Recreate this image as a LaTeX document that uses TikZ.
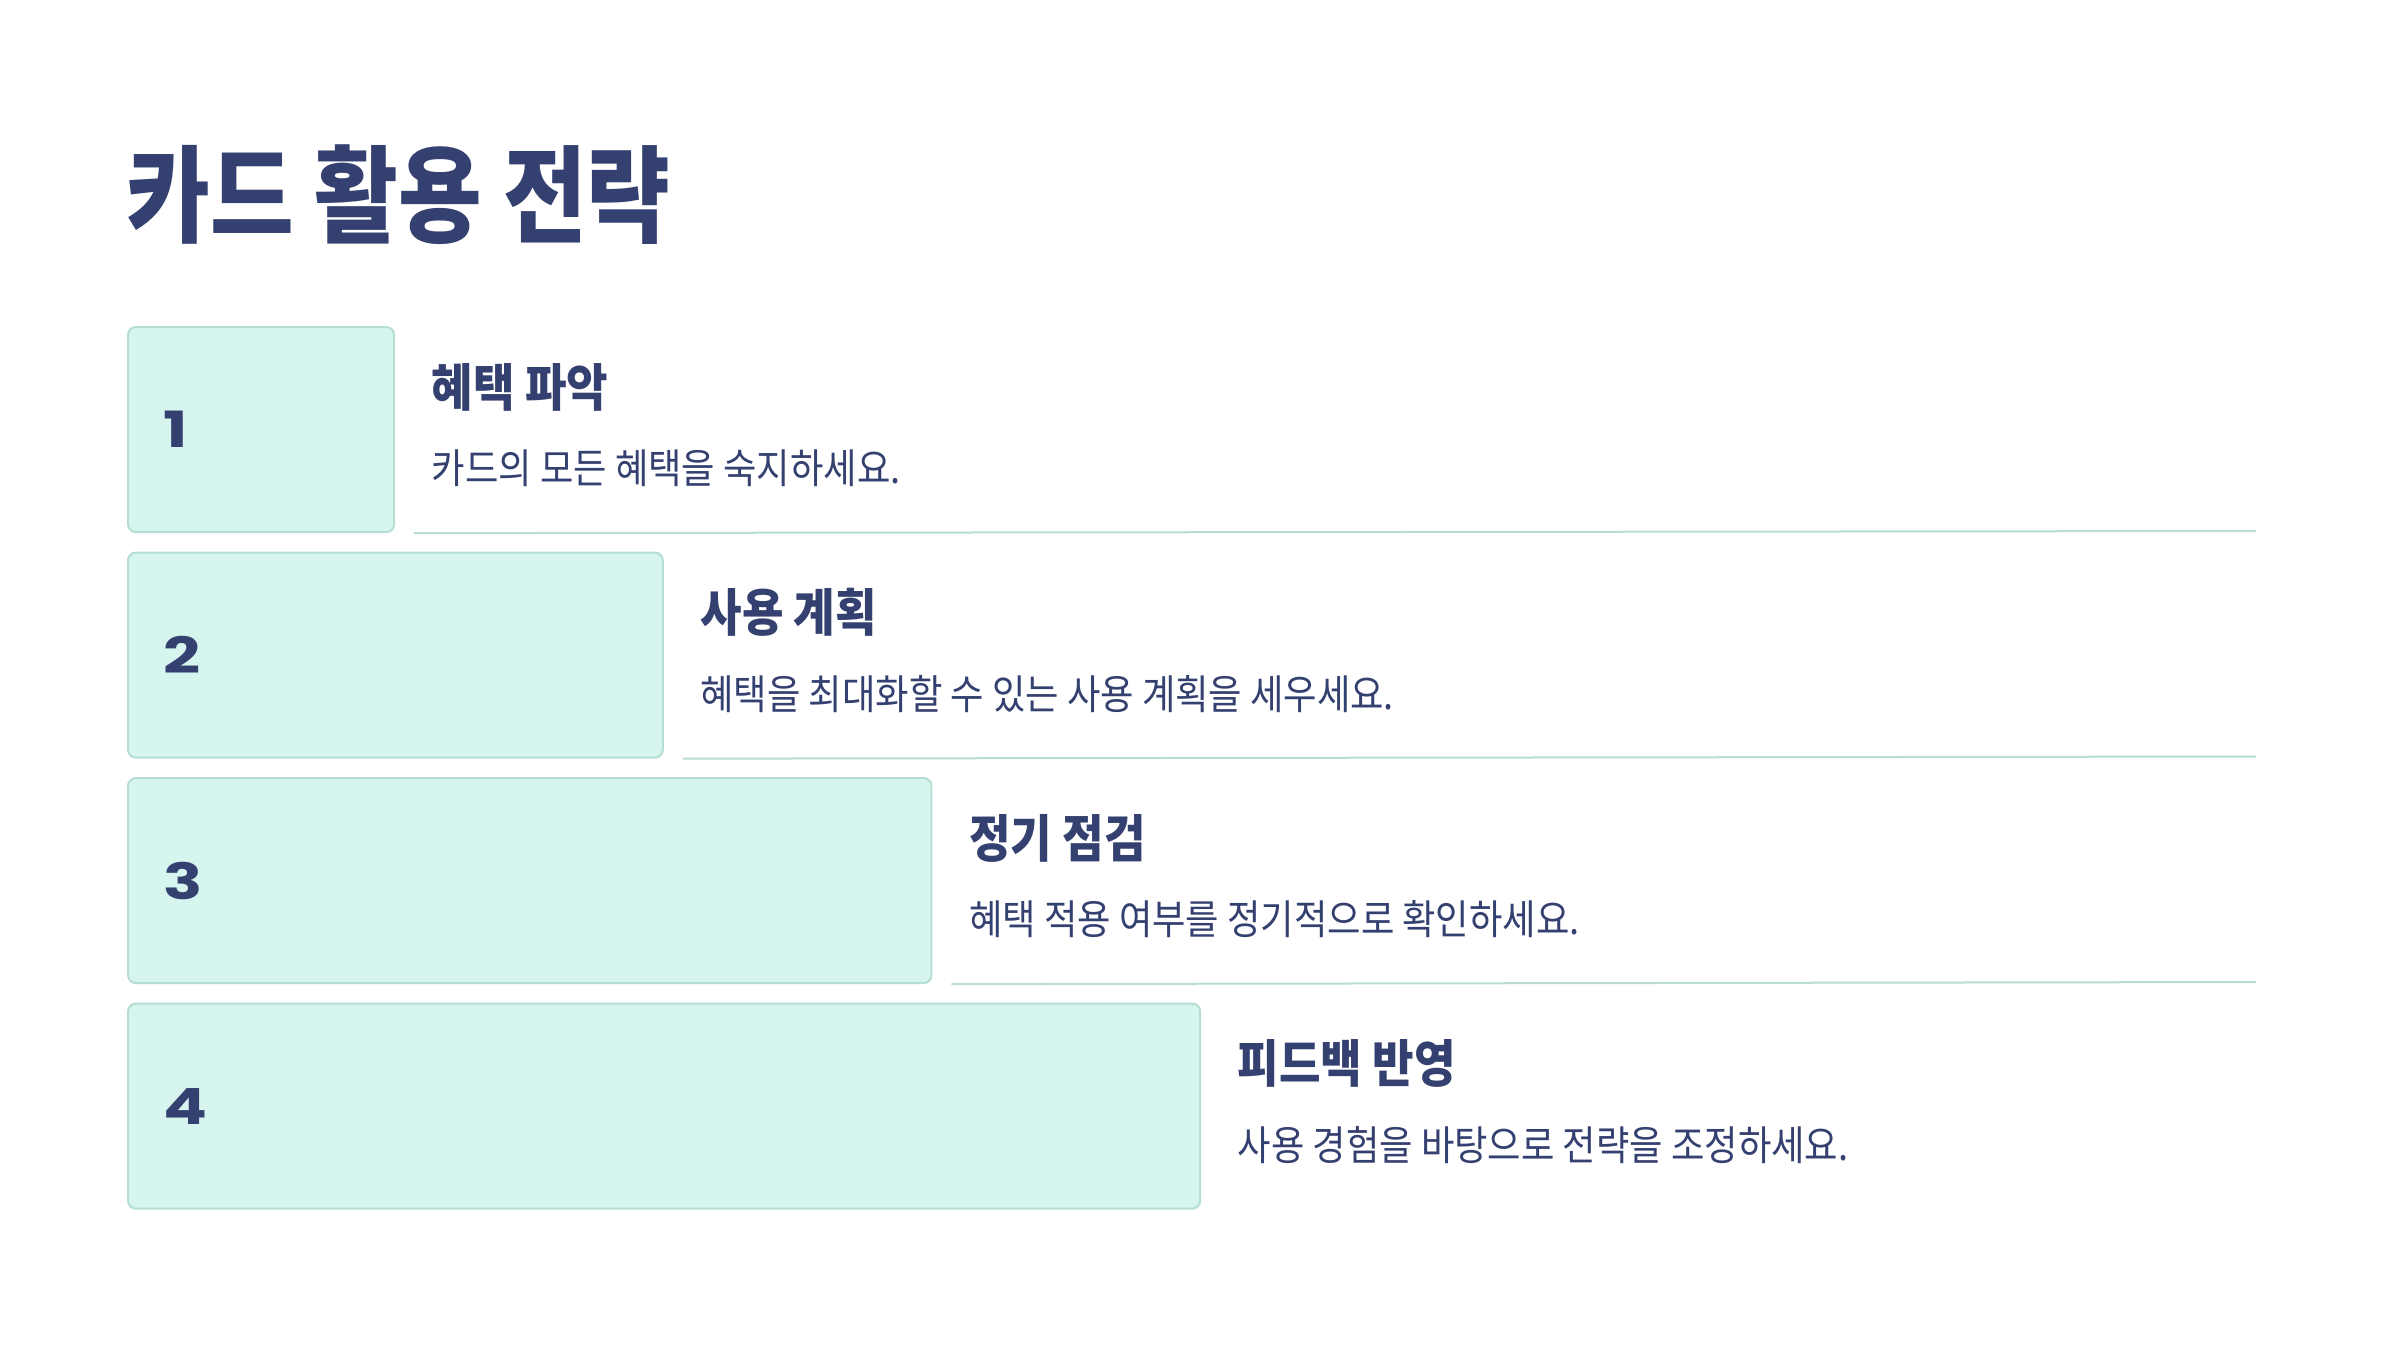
\documentclass[tikz,border=0pt]{standalone}
\usepackage{fontspec}
\newfontfamily\krfont{Noto Sans CJK KR}[FakeStretch=0.862]
\newfontfamily\krfontb{Noto Sans CJK KR}[FakeStretch=0.885]
\newfontfamily\krfontd{Noto Sans CJK KR}[FakeStretch=0.89]
\newfontfamily\numfont{Poppins}[FakeStretch=1.3]
\definecolor{navy}{HTML}{34406F}
\definecolor{boxfill}{HTML}{D5F5EE}
\definecolor{boxline}{HTML}{B5DED4}
\definecolor{sepline}{HTML}{B8DDD5}
\tikzset{
  stepbox/.style={draw=boxline, fill=boxfill, line width=0.02cm, rounded corners=0.08cm, anchor=north west, inner sep=0pt, minimum height=2.05cm},
  numtext/.style={anchor=west, inner sep=0pt, text=navy, font=\numfont\bfseries\fontsize{14.2pt}{16pt}\selectfont},
  headtext/.style={anchor=west, inner sep=0pt, text=navy, font=\krfontb\bfseries\fontsize{14.5pt}{17pt}\selectfont},
  desctext/.style={anchor=west, inner sep=0pt, text=navy, font=\krfontd\fontsize{11.6pt}{14pt}\selectfont},
  titletext/.style={anchor=west, inner sep=0pt, text=navy, font=\krfont\bfseries\fontsize{30pt}{34pt}\selectfont},
  sep/.style={draw=sepline, line width=0.02cm}
}
\begin{document}
\begin{tikzpicture}[x=0.01cm, y=-0.01cm]
\useasboundingbox[fill=white] (0,0) rectangle (2400,1350);
\node[titletext] (title) at (126,195) {카드 활용 전략};
% rows
\node[stepbox, minimum width=2.66cm] (b1) at (127,326) {};
\node[stepbox, minimum width=5.345cm] (b2) at (127,551.5) {};
\node[stepbox, minimum width=8.03cm] (b3) at (127,777) {};
\node[stepbox, minimum width=10.715cm] (b4) at (127,1002.5) {};
\foreach \i in {1,...,4}{
  \node[numtext] (n\i) at ([xshift=0.36cm]b\i.west) {\i};
}
\node[headtext] (h1) at ([xshift=0.36cm, yshift=-0.61cm]b1.north east) {혜택 파악};
\node[desctext] (d1) at ([xshift=0.36cm, yshift=-1.42cm]b1.north east) {카드의 모든 혜택을 숙지하세요.};
\node[headtext] (h2) at ([xshift=0.36cm, yshift=-0.61cm]b2.north east) {사용 계획};
\node[desctext] (d2) at ([xshift=0.36cm, yshift=-1.42cm]b2.north east) {혜택을 최대화할 수 있는 사용 계획을 세우세요.};
\node[headtext] (h3) at ([xshift=0.36cm, yshift=-0.61cm]b3.north east) {정기 점검};
\node[desctext] (d3) at ([xshift=0.36cm, yshift=-1.42cm]b3.north east) {혜택 적용 여부를 정기적으로 확인하세요.};
\node[headtext] (h4) at ([xshift=0.36cm, yshift=-0.61cm]b4.north east) {피드백 반영};
\node[desctext] (d4) at ([xshift=0.36cm, yshift=-1.42cm]b4.north east) {사용 경험을 바탕으로 전략을 조정하세요.};
% separator lines
\coordinate (e1) at (2256,531);
\coordinate (e2) at (2256,756.5);
\coordinate (e3) at (2256,982);
\draw[sep] ([xshift=0.19cm]b1.south east) -- (e1);
\draw[sep] ([xshift=0.19cm]b2.south east) -- (e2);
\draw[sep] ([xshift=0.19cm]b3.south east) -- (e3);
\end{tikzpicture}
\end{document}
